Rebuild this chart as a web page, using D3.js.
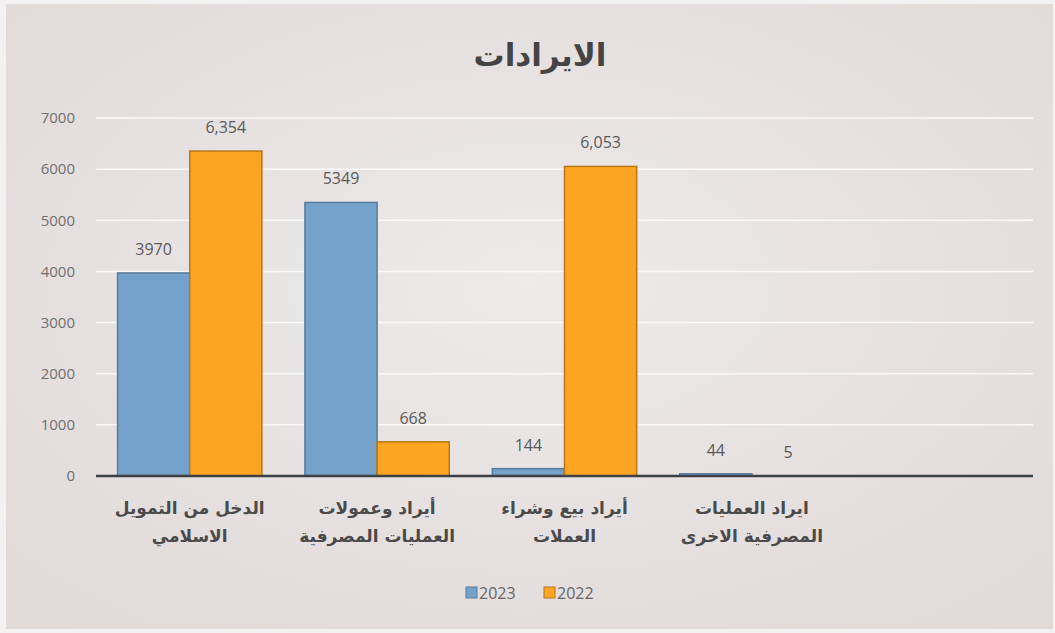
<!DOCTYPE html>
<html>
<head>
<meta charset="utf-8">
<script src="https://cdn.jsdelivr.net/npm/d3@7"></script>
<style>
  html, body { margin: 0; padding: 0; background: #f3f1f1; }
  svg { display: block; }
</style>
</head>
<body>
<div id="chart"></div>
<script>
// chart values
const categories = [
    ["الدخل من التمويل", "الاسلامي"],
    ["أيراد وعمولات", "العمليات المصرفية"],
    ["أيراد بيع وشراء", "العملات"],
    ["ايراد العمليات", "المصرفية الاخرى"],
    [""]
]
const seriesNames = ["2023", "2022"]
const values2023 = [3970, 5349, 144, 44, null]
const values2022 = [6354, 668, 6053, 5, null]
const labels2023 = ["3970", "5349", "144", "44", ""]
const labels2022 = ["6,354", "668", "6,053", "5", ""]
const yTicks = [0, 1000, 2000, 3000, 4000, 5000, 6000, 7000]

const W = 1055, H = 633
const margin = {top: 118, bottom: 157, left: 96, right: 22}
const colors = {"2023": "#74a2ca", "2022": "#fca522"}
const strokes = {"2023": "#587c9c", "2022": "#b97718"}
const numFont = "Open Sans, DejaVu Sans, sans-serif"

const svg = d3.select("#chart").append("svg")
    .attr("width", W).attr("height", H)

// paper-ish background
const defs = svg.append("defs")
const grad = defs.append("radialGradient").attr("id", "bg")
    .attr("cx", "50%").attr("cy", "45%").attr("r", "70%")
grad.append("stop").attr("offset", "0%").attr("stop-color", "#eeeaea")
grad.append("stop").attr("offset", "100%").attr("stop-color", "#e0dad9")
svg.append("rect").attr("x", 6).attr("y", 4).attr("width", W - 8).attr("height", H - 8)
    .attr("fill", "url(#bg)")

const x0 = d3.scaleBand()
    .domain(d3.range(categories.length))
    .range([margin.left, W - margin.right])
    .paddingInner(0.23).paddingOuter(0.115)
const x1 = d3.scaleBand()
    .domain(seriesNames)
    .range([0, x0.bandwidth()])
const y = d3.scaleLinear()
    .domain([0, 7000])
    .range([H - margin.bottom, margin.top])

// gridlines
svg.append("g").selectAll("line.grid")
    .data(yTicks.filter(d => d > 0))
    .join("line").attr("class", "grid")
    .attr("x1", margin.left).attr("x2", W - margin.right)
    .attr("y1", d => y(d)).attr("y2", d => y(d))
    .attr("stroke", "#fbfafa").attr("stroke-width", 1.5)

// y axis labels
const yAxis = svg.append("g")
    .attr("transform", `translate(${margin.left},0)`)
    .call(d3.axisLeft(y).tickValues(yTicks).tickSize(0).tickPadding(21).tickFormat(d3.format("d")))
yAxis.select(".domain").remove()
yAxis.selectAll("text")
    .attr("font-family", numFont)
    .attr("font-size", 15).attr("fill", "#707070")

// bars
const rows = categories.map((c, i) => ({i, "2023": values2023[i], "2022": values2022[i],
    l2023: labels2023[i], l2022: labels2022[i]}))
const groups = svg.append("g").selectAll("g.cat")
    .data(rows).join("g").attr("class", "cat")
    .attr("transform", d => `translate(${x0(d.i)},0)`)

groups.selectAll("rect")
    .data(d => seriesNames.filter(s => d[s] !== null).map(s => ({s, v: d[s]})))
    .join("rect")
    .attr("x", d => x1(d.s)).attr("width", x1.bandwidth())
    .attr("y", d => y(d.v)).attr("height", d => y(0) - y(d.v))
    .attr("fill", d => colors[d.s])
    .attr("stroke", d => strokes[d.s]).attr("stroke-width", 1.5)

groups.selectAll("text.val")
    .data(d => seriesNames.filter(s => d[s] !== null).map(s => ({s, v: d[s], t: d["l" + s]})))
    .join("text").attr("class", "val")
    .attr("x", d => x1(d.s) + x1.bandwidth() / 2)
    .attr("y", d => y(d.v) - 18)
    .attr("text-anchor", "middle")
    .attr("font-family", numFont)
    .attr("font-size", 16).attr("fill", "#595959")
    .text(d => d.t)

// baseline
svg.append("line")
    .attr("x1", margin.left).attr("x2", W - margin.right)
    .attr("y1", y(0)).attr("y2", y(0))
    .attr("stroke", "#3d4146").attr("stroke-width", 2.5)

// category labels
const catText = svg.append("g").selectAll("text.cat")
    .data(categories.map((c, i) => ({c, i})))
    .join("text").attr("class", "cat")
    .attr("x", d => x0(d.i) + x0.bandwidth() / 2)
    .attr("y", y(0) + 38)
    .attr("text-anchor", "middle")
    .attr("direction", "rtl")
    .attr("font-family", "DejaVu Sans, sans-serif")
    .attr("font-size", 17).attr("font-weight", "bold").attr("fill", "#4a4a4a")
catText.selectAll("tspan")
    .data(d => d.c.map((line, k) => ({line, k, i: d.i})))
    .join("tspan")
    .attr("x", d => x0(d.i) + x0.bandwidth() / 2)
    .attr("dy", d => d.k === 0 ? 0 : 28)
    .text(d => d.line)

// title
svg.append("text")
    .attr("x", 540).attr("y", 66)
    .attr("text-anchor", "middle").attr("direction", "rtl")
    .attr("font-family", "DejaVu Sans, sans-serif")
    .attr("font-size", 31).attr("font-weight", "bold").attr("fill", "#444")
    .text("الايرادات")

// legend
const legend = svg.append("g").attr("transform", "translate(466,593)")
const items = legend.selectAll("g").data(seriesNames).join("g")
    .attr("transform", (d, i) => `translate(${i * 78},0)`)
items.append("rect").attr("x", 0).attr("y", -6).attr("width", 11).attr("height", 11)
    .attr("fill", d => colors[d]).attr("stroke", d => strokes[d]).attr("stroke-width", 1)
items.append("text").attr("x", 13).attr("y", 6)
    .attr("font-family", numFont)
    .attr("font-size", 16).attr("fill", "#666")
    .text(d => d)
</script>
</body>
</html>
